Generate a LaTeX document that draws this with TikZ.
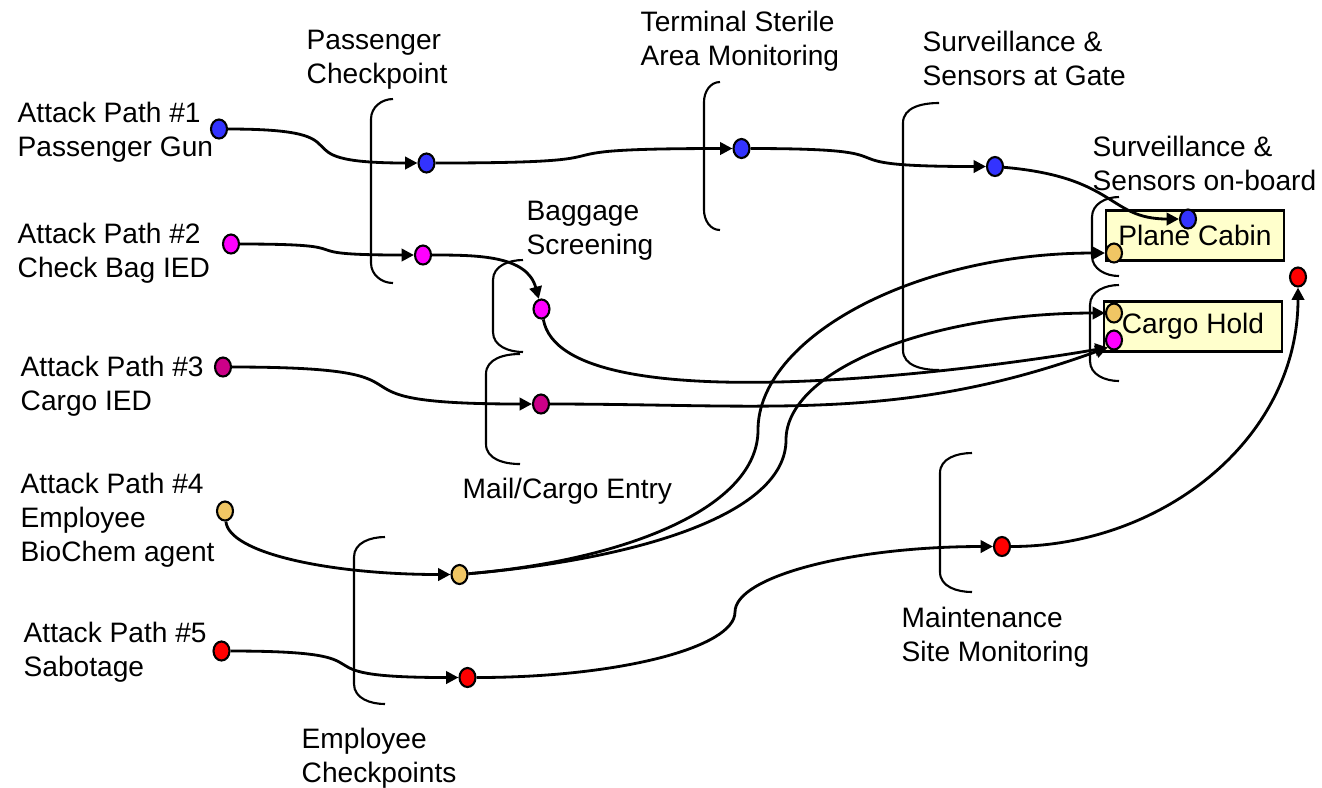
\documentclass[tikz,border=0pt]{standalone}
\usepackage{fontspec}
\setmainfont{Liberation Sans}
\usetikzlibrary{shapes.geometric, arrows.meta}
\definecolor{pblue}{RGB}{51,51,255}
\definecolor{pmag}{RGB}{255,0,255}
\definecolor{pcargo}{RGB}{204,0,136}
\definecolor{ptan}{RGB}{240,198,100}
\definecolor{pred}{RGB}{255,0,0}
\definecolor{zonefill}{RGB}{255,255,204}
\newcommand{\brak}[4]{\draw[brak] (#2,#3) to[out=180,in=90] (#1,#3+0.2) -- (#1,#4-0.2) to[out=-90,in=180] (#2,#4);}

\begin{document}
\begin{tikzpicture}[x=1cm, y=-1cm, font=\fontsize{8}{9.7}\selectfont,
    spot/.style={ellipse, draw, line width=0.6pt, fill=#1, minimum width=0.16cm, minimum height=0.19cm, inner sep=0pt},
    zone/.style={draw, line width=0.8pt, fill=zonefill, minimum width=1.78cm, minimum height=0.5cm, inner sep=0pt},
    lbl/.style={anchor=west, align=left, inner sep=0pt},
    brak/.style={line width=0.6pt},
    flow/.style={line width=0.8pt, -{Triangle[length=3.5pt,width=3.5pt]}}]
    \useasboundingbox (0,0) rectangle (13.22,7.87);
    % Labels
    \node[lbl](ap1)     at (0.17,1.32) {Attack Path \#1\\Passenger Gun};
    \node[lbl](ap2)     at (0.17,2.53) {Attack Path \#2\\Check Bag IED};
    \node[lbl](ap3)     at (0.20,3.86) {Attack Path \#3\\Cargo IED};
    \node[lbl](ap4)     at (0.20,5.205) {Attack Path \#4\\Employee\\BioChem agent};
    \node[lbl](ap5)     at (0.23,6.525) {Attack Path \#5\\Sabotage};
    \node[lbl](lpass)   at (3.06,0.60) {Passenger\\Checkpoint};
    \node[lbl](lterm)   at (6.40,0.415) {Terminal Sterile\\Area Monitoring};
    \node[lbl](lgate)   at (9.22,0.58) {Surveillance \&\\Sensors at Gate};
    \node[lbl](lboard)  at (10.92,1.63) {Surveillance \&\\Sensors on-board};
    \node[lbl](lbag)    at (5.26,2.305) {Baggage\\Screening};
    \node[lbl](lmail)   at (4.62,4.915) {Mail/Cargo Entry};
    \node[lbl](lmaint)  at (9.01,6.375) {Maintenance\\Site Monitoring};
    \node[lbl](lemp)    at (3.01,7.58) {Employee\\Checkpoints};
    % Plane areas
    \node[zone](cabin)  at (11.95,2.357) {Plane Cabin};
    \node[zone](hold)   at (11.93,3.263) {Cargo Hold};
    % Brackets
    \brak{3.71}{3.93}{0.99}{2.83}
    \brak{4.93}{5.23}{2.60}{3.52}
    \brak{4.86}{5.20}{3.54}{4.64}
    \brak{7.04}{7.20}{0.82}{2.30}
    \brak{9.03}{9.39}{1.03}{3.70}
    \brak{10.92}{11.19}{1.97}{2.76}
    \brak{10.90}{11.19}{2.85}{3.81}
    \brak{3.54}{3.85}{5.37}{7.04}
    \brak{9.40}{9.72}{4.53}{5.92}
    % Path points
    \node[spot=pblue](s1)   at (2.19,1.29) {};
    \node[spot=pblue](p1)   at (4.265,1.63) {};
    \node[spot=pblue](t1)   at (7.415,1.485) {};
    \node[spot=pblue](g1)   at (9.95,1.665) {};
    \node[spot=pblue](c1)   at (11.88,2.19) {};
    \node[spot=pmag](s2)    at (2.31,2.44) {};
    \node[spot=pmag](p2)    at (4.23,2.55) {};
    \node[spot=pmag](b2)    at (5.415,3.09) {};
    \node[spot=pmag](h2)    at (11.14,3.40) {};
    \node[spot=pcargo](s3)  at (2.23,3.67) {};
    \node[spot=pcargo](m3)  at (5.41,4.04) {};
    \node[spot=ptan](s4)    at (2.25,5.11) {};
    \node[spot=ptan](e4)    at (4.595,5.745) {};
    \node[spot=ptan](c4)    at (11.14,2.53) {};
    \node[spot=ptan](h4)    at (11.14,3.13) {};
    \node[spot=pred](s5)    at (2.215,6.51) {};
    \node[spot=pred](e5)    at (4.675,6.775) {};
    \node[spot=pred](m5)    at (10.02,5.465) {};
    \node[spot=pred](r5)    at (12.98,2.77) {};
    % Bends
    \coordinate (w4c) at (7.58,4.30);
    \coordinate (w4h) at (7.86,4.40);
    \coordinate (w5)  at (7.35,6.12);
    % Transitions
    \path
        (s1)
            edge [flow, out=0, in=180, looseness=2] (p1)
        (p1)
            edge [flow, out=0, in=180, looseness=2] (t1)
        (t1)
            edge [flow, out=0, in=180, looseness=2] (g1)
        (g1)
            edge [flow, out=-5, in=180, out looseness=1.6, in looseness=1] (c1)
        (s2)
            edge [flow, out=0, in=180, looseness=2] (p2)
        (p2)
            edge [flow, out=0, in=105] (b2)
        (b2)
            edge [flow, out=-80, in=190, looseness=0.5] (h2.south west)
        (s3)
            edge [flow, out=0, in=180, looseness=2] (m3)
        (m3)
            edge [flow, out=0, in=200] (h2.south west)
        (s4)
            edge [flow, out=-85, in=180, out looseness=0.35, in looseness=1.35] (e4)
        (s5)
            edge [flow, out=0, in=180, looseness=2] (e5)
        (m5)
            edge [flow, out=0, in=-90] (r5)
        ;
    \draw[flow] (e4) to[out=5, in=-90, out looseness=1.27, in looseness=0.61] (w4c)
        to[out=90, in=180, out looseness=0.6, in looseness=1.26] (c4);
    \draw[flow] (e4) to[out=5, in=-90, out looseness=1.3, in looseness=0.54] (w4h)
        to[out=90, in=180, out looseness=0.52, in looseness=1.31] (h4);
    \draw[flow] (e5) to[out=0, in=-90, out looseness=1.37, in looseness=0.34] (w5)
        to[out=90, in=180, out looseness=0.34, in looseness=1.37] (m5);
\end{tikzpicture}
\end{document}
